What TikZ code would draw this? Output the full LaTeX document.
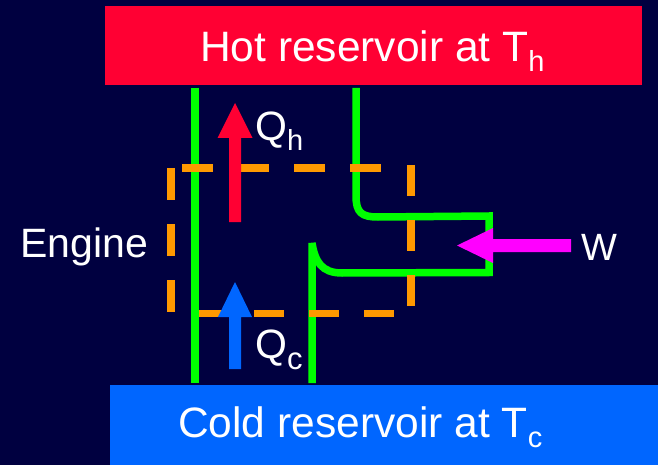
\documentclass[tikz,border=0pt]{standalone}
\usepackage{fontspec}
\setmainfont{Liberation Sans}
\definecolor{bgnavy}{RGB}{0,0,64}
\definecolor{hotred}{RGB}{255,0,51}
\definecolor{coldblue}{RGB}{0,102,255}
\definecolor{wallgreen}{RGB}{0,255,0}
\definecolor{engorange}{RGB}{255,153,0}
\definecolor{workmag}{RGB}{255,0,255}
\begin{document}
\begin{tikzpicture}[x=1pt,y=-1pt,
  wall/.style={draw=wallgreen,line width=7.5pt,line cap=butt,line join=miter},
  engdash/.style={draw=engorange,line width=7.5pt,line cap=butt},
  reservoir/.style={anchor=north west,inner sep=0pt,outer sep=0pt},
  bigtext/.style={anchor=base west,inner sep=0pt,text=white,font=\fontsize{42.5}{42.5}\selectfont},
  labtext/.style={anchor=base west,inner sep=0pt,text=white,font=\fontsize{41}{41}\selectfont}]
\useasboundingbox (0,0) rectangle (658,465);
\fill[bgnavy] (0,0) rectangle (658,465);
% reservoirs
\node[reservoir,fill=hotred,minimum width=537pt,minimum height=79pt] (hotbox) at (105,6) {};
\node[reservoir,fill=coldblue,minimum width=548pt,minimum height=80pt] (coldbox) at (110,385) {};
\node[bigtext] (hottext) at (200,62) {Hot reservoir at T\raisebox{-10pt}{\fontsize{29}{29}\selectfont h}};
\node[bigtext] (coldtext) at (178,437) {Cold reservoir at T\raisebox{-10pt}{\fontsize{29}{29}\selectfont c}};
% green walls
\draw[wall] (195,88) -- (195,383);
\draw[wall] (356,88) -- (356,196) .. controls (356,213) and (362,217) .. (378,217) -- (489,216) -- (489,272.5) -- (342,273) .. controls (322,273) and (315,262) .. (312,243) -- (312,383);
% engine dashed boundary
\draw[engdash,dash pattern=on 31pt off 25pt] (182,168) -- (382,168);
\draw[engdash,dash pattern=on 31pt off 24pt] (411,165) -- (411,307);
\draw[engdash,dash pattern=on 32pt off 24pt] (171,168) -- (171,312);
\draw[engdash,dash pattern=on 30pt off 25pt] (199,313.5) -- (394,313.5);
% heat and work arrows
\fill[hotred] (229,222) -- (229,138) -- (217.5,138) -- (235,103) -- (252.5,138) -- (241,138) -- (241,222) -- cycle;
\fill[coldblue] (229,369) -- (229,317) -- (218,317) -- (235,282) -- (252,317) -- (241,317) -- (241,369) -- cycle;
\fill[workmag] (571,239) -- (493,239) -- (493,228) -- (457,245.5) -- (493,263) -- (493,252) -- (571,252) -- cycle;
% labels
\node[labtext] (qh) at (255,141) {Q\raisebox{-10pt}{\fontsize{29}{29}\selectfont h}};
\node[labtext] (qc) at (255,358) {Q\raisebox{-11pt}{\fontsize{31}{31}\selectfont c}};
\node[labtext] (engine) at (20,257) {Engine};
\node[anchor=base west,inner sep=0pt,text=white,font=\fontsize{38}{38}\selectfont] (w) at (581,260) {W};
\end{tikzpicture}
\end{document}
